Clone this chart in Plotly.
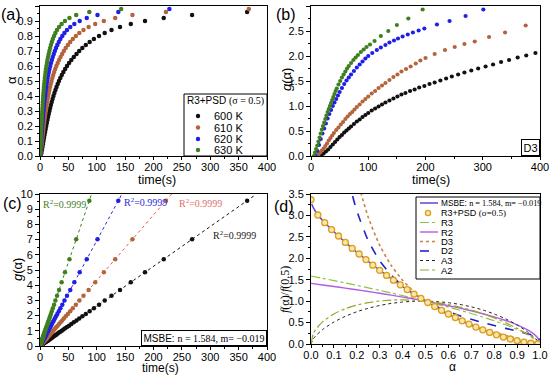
import plotly.graph_objects as go

W, H = 550, 376
SANS = "Liberation Sans"
SERIF = "Liberation Serif"


def px(x):
    return x / W


def py(y):
    return 1 - y / H


# ---------------- data: panel (a) alpha vs time ----------------
TEMPS = ["600 K", "610 K", "620 K", "630 K"]
A_GRID = [0.00, 0.02, 0.04, 0.06, 0.08, 0.10, 0.12, 0.14, 0.16, 0.18,
          0.20, 0.22, 0.24, 0.26, 0.28, 0.30, 0.32, 0.34, 0.36, 0.38,
          0.40, 0.42, 0.44, 0.46, 0.48, 0.50, 0.52, 0.54, 0.56, 0.58,
          0.60, 0.62, 0.64, 0.66, 0.68, 0.70, 0.72, 0.74, 0.76, 0.78,
          0.80, 0.82, 0.84, 0.86, 0.88, 0.90, 0.92, 0.94, 0.96, 0.98]
T_600 = [1, 2.5, 3.5, 4.4, 5.3, 6.2, 7.1, 8.0, 9.0, 10.0,
         11.0, 12.0, 13.1, 14.2, 15.4, 16.6, 17.9, 19.2, 20.6, 22.1,
         23.7, 25.4, 27.2, 29.1, 31.2, 33.4, 35.8, 38.4, 41.2, 44.3,
         47.6, 51.2, 55.2, 59.6, 64.3, 69.1, 74.6, 80.7, 87.5, 95,
         104, 114, 126, 141, 160, 185, 218, 268, 365]
T_610 = [0.6, 1.5, 2.1, 2.7, 3.2, 3.8, 4.3, 4.9, 5.5, 6.1,
         6.7, 7.3, 8.0, 8.6, 9.4, 10.1, 10.9, 11.7, 12.5, 13.4,
         14.4, 15.4, 16.5, 17.7, 19.0, 20.3, 21.8, 23.3, 25.0, 26.9,
         28.9, 31.1, 33.6, 36.2, 39.1, 42.0, 45.3, 49.1, 53.2, 57.8,
         63.2, 69.3, 76.6, 85.7, 97.3, 112.5, 132.5, 162.9, 221.9, 368]
T_620 = [0.4, 0.9, 1.3, 1.7, 2.0, 2.3, 2.7, 3.0, 3.4, 3.8,
         4.2, 4.5, 5.0, 5.4, 5.8, 6.3, 6.8, 7.3, 7.8, 8.4,
         9.0, 9.6, 10.3, 11.0, 11.8, 12.6, 13.5, 14.5, 15.6, 16.7,
         18.0, 19.4, 20.9, 22.5, 24.3, 26.1, 28.2, 30.5, 33.1, 35.9,
         39.3, 43.1, 47.6, 53.3, 60.5, 69.9, 82.4, 101.3, 138.0, 228]
T_630 = [0.2, 0.6, 0.8, 1.0, 1.3, 1.5, 1.7, 1.9, 2.1, 2.4,
         2.6, 2.9, 3.1, 3.4, 3.7, 4.0, 4.3, 4.6, 4.9, 5.3,
         5.6, 6.0, 6.5, 6.9, 7.4, 8.0, 8.5, 9.1, 9.8, 10.5,
         11.3, 12.2, 13.1, 14.2, 15.3, 16.5, 17.8, 19.2, 20.8, 22.6,
         24.8, 27.1, 30.0, 33.6, 38.1, 44.0, 51.9, 63.8, 86.9, 143]

# ---------------- data: panel (b) D3 g(alpha) vs time ----------------
TB_600 = [14, 18, 22, 26, 30, 34, 38, 42, 46, 50, 54, 58, 62, 66, 70, 75, 80, 85, 90, 95,
          100, 106, 112, 118, 124, 130, 137, 144, 151, 158, 165, 173, 181, 189, 198, 207,
          216, 226, 236, 246, 257, 268, 280, 292, 305, 318, 332, 346, 361, 376, 392, 408]
GB_600 = [0.0, 0.02, 0.05, 0.09, 0.13, 0.18, 0.23, 0.28, 0.33, 0.38, 0.42, 0.47, 0.51, 0.55,
          0.59, 0.64, 0.69, 0.73, 0.78, 0.82, 0.86, 0.91, 0.95, 0.99, 1.03, 1.07, 1.11, 1.15,
          1.19, 1.23, 1.26, 1.30, 1.33, 1.37, 1.40, 1.44, 1.47, 1.51, 1.55, 1.59, 1.63, 1.67,
          1.71, 1.75, 1.79, 1.83, 1.88, 1.92, 1.97, 2.01, 2.06, 2.11]
TB_610 = [10, 13, 16, 19, 22, 25, 28, 31, 34, 37, 40, 44, 48, 52, 56, 60, 64, 68, 72, 76,
          80, 85, 90, 95, 100, 106, 112, 118, 124, 130, 137, 144, 151, 158, 166, 174, 183,
          191, 200, 216, 234, 251, 268, 286, 311, 339, 375]
GB_610 = [0.0, 0.03, 0.07, 0.11, 0.15, 0.2, 0.25, 0.31, 0.36, 0.41, 0.46, 0.52, 0.57, 0.63,
          0.68, 0.74, 0.79, 0.84, 0.88, 0.93, 0.98, 1.03, 1.09, 1.14, 1.19, 1.25, 1.30, 1.36,
          1.41, 1.46, 1.52, 1.58, 1.63, 1.69, 1.74, 1.79, 1.85, 1.91, 1.96, 2.04, 2.12, 2.18,
          2.24, 2.29, 2.38, 2.47, 2.61]
TB_620 = [8, 11, 14, 17, 20, 23, 26, 29, 32, 35, 38, 41, 44, 47, 50, 54, 58, 62, 66, 70,
          75, 80, 85, 90, 95, 100, 107, 115, 122, 130, 137, 145, 152, 160, 169, 178, 188,
          198, 220, 242, 270, 301]
GB_620 = [0, 0.1, 0.22, 0.34, 0.45, 0.55, 0.65, 0.75, 0.84, 0.92, 1.0, 1.07, 1.14, 1.21,
          1.28, 1.36, 1.44, 1.51, 1.57, 1.63, 1.7, 1.77, 1.83, 1.89, 1.95, 2.0, 2.06, 2.12,
          2.17, 2.22, 2.27, 2.31, 2.35, 2.39, 2.43, 2.47, 2.51, 2.55, 2.63, 2.7, 2.8, 2.93]
TB_630 = [5, 7, 9, 11, 13, 15, 17, 19, 21, 23, 25, 27, 29, 31, 33, 35, 37, 39, 41, 43, 45,
          48, 51, 54, 57, 60, 63, 66, 70, 74, 78, 82, 87, 92, 97, 103, 111, 122, 135, 150,
          170, 195]
GB_630 = [0, 0.07, 0.14, 0.21, 0.29, 0.37, 0.45, 0.53, 0.6, 0.67, 0.74, 0.81, 0.88, 0.94,
          1.0, 1.06, 1.12, 1.18, 1.24, 1.3, 1.35, 1.43, 1.5, 1.57, 1.63, 1.69, 1.75, 1.8,
          1.86, 1.92, 1.97, 2.02, 2.08, 2.13, 2.18, 2.23, 2.3, 2.4, 2.5, 2.62, 2.75, 2.93]

# ---------------- data: panel (c) MSBE g(alpha) vs time ----------------
G_C = [0.03, 0.07, 0.09, 0.12, 0.14, 0.16, 0.19, 0.21, 0.24, 0.26,
       0.29, 0.31, 0.34, 0.37, 0.40, 0.43, 0.47, 0.50, 0.54, 0.58,
       0.62, 0.67, 0.71, 0.76, 0.82, 0.88, 0.94, 1.01, 1.08, 1.16,
       1.25, 1.34, 1.45, 1.56, 1.68, 1.81, 1.95, 2.11, 2.29, 2.49,
       2.72, 2.99, 3.30, 3.69, 4.19, 4.85, 5.71, 7.02, 9.56]
K_FIT = [0.0262, 0.0431, 0.0693, 0.110]
T_FIT_END = [378, 232, 145, 91]
R2_TEXT = "R<sup>2</sup>=0.9999"
R2_POS_T = [302, 241, 144, 2]
R2_POS_G = [7.32, 9.4, 9.47, 9.34]

# ---------------- data: panel (d) normalised f(alpha) ----------------
A_R = [0, 0.05, 0.1, 0.15, 0.2, 0.25, 0.3, 0.35, 0.4, 0.45, 0.5, 0.55, 0.6, 0.65, 0.7,
       0.75, 0.8, 0.85, 0.9, 0.95, 0.975, 0.99, 1.0]
F_R3 = [1.587, 1.534, 1.480, 1.424, 1.368, 1.310, 1.251, 1.191, 1.129, 1.066, 1.0, 0.932,
        0.862, 0.788, 0.711, 0.630, 0.543, 0.448, 0.342, 0.215, 0.136, 0.074, 0.0]
F_R2 = [1.414, 1.378, 1.342, 1.304, 1.265, 1.225, 1.183, 1.140, 1.095, 1.049, 1.0, 0.949,
        0.894, 0.837, 0.775, 0.707, 0.632, 0.548, 0.447, 0.316, 0.224, 0.141, 0.0]
A_D3 = [0.2, 0.21, 0.22, 0.25, 0.3, 0.35, 0.4, 0.45, 0.5, 0.55, 0.6, 0.65, 0.7, 0.75, 0.8,
        0.85, 0.9, 0.95, 0.975, 0.99, 1.0]
F_D3 = [3.94, 3.70, 3.49, 2.957, 2.303, 1.836, 1.487, 1.216, 1.0, 0.823, 0.675, 0.551,
        0.444, 0.351, 0.270, 0.197, 0.132, 0.070, 0.040, 0.019, 0.0]
A_D2 = [0.15, 0.17, 0.18, 0.2, 0.25, 0.3, 0.35, 0.4, 0.45, 0.5, 0.55, 0.6, 0.65, 0.7, 0.75,
        0.8, 0.85, 0.9, 0.95, 0.975, 0.99, 0.999]
F_D2 = [4.27, 3.72, 3.49, 3.106, 2.409, 1.943, 1.609, 1.357, 1.159, 1.0, 0.868, 0.756,
        0.660, 0.576, 0.5, 0.431, 0.365, 0.301, 0.231, 0.188, 0.150, 0.100]
A_A = [0, 0.01, 0.02, 0.05, 0.1, 0.15, 0.2, 0.25, 0.3, 0.35, 0.4, 0.45, 0.5, 0.55, 0.6,
       0.65, 0.7, 0.75, 0.8, 0.85, 0.9, 0.95, 0.98, 0.99, 1.0]
F_A3 = [0, 0.118, 0.186, 0.335, 0.513, 0.646, 0.752, 0.834, 0.899, 0.947, 0.979, 0.996,
        1.0, 0.989, 0.964, 0.923, 0.867, 0.794, 0.701, 0.587, 0.445, 0.265, 0.127, 0.071, 0.0]
F_A2 = [0, 0.238, 0.335, 0.517, 0.702, 0.823, 0.908, 0.966, 1.004, 1.025, 1.030, 1.021,
        1.0, 0.966, 0.920, 0.861, 0.791, 0.707, 0.609, 0.496, 0.364, 0.208, 0.095, 0.052, 0.0]
A_MSBE = [0.003, 0.01, 0.03, 0.05, 0.1, 0.15, 0.2, 0.25, 0.3, 0.35, 0.4, 0.45, 0.5, 0.55,
          0.6, 0.65, 0.7, 0.75, 0.8, 0.85, 0.9, 0.95, 1.0]
F_MSBE = [3.27, 3.18, 3.01, 2.89, 2.62, 2.37, 2.14, 1.93, 1.72, 1.53, 1.34, 1.17, 1.0,
          0.845, 0.70, 0.566, 0.442, 0.331, 0.232, 0.147, 0.077, 0.026, 0.0]
A_PSD = [0.00, 0.03, 0.06, 0.09, 0.12, 0.15, 0.18, 0.21, 0.24, 0.27, 0.30, 0.33, 0.36,
         0.39, 0.42, 0.45, 0.48, 0.51, 0.54, 0.57, 0.60, 0.63, 0.66, 0.69, 0.72, 0.75,
         0.78, 0.81, 0.84, 0.87, 0.90, 0.93, 0.96, 0.99]
F_PSD = [3.37, 3.01, 2.83, 2.67, 2.52, 2.37, 2.23, 2.10, 1.97, 1.84, 1.72, 1.60, 1.49,
         1.38, 1.27, 1.165, 1.065, 0.968, 0.875, 0.786, 0.700, 0.618, 0.540, 0.466, 0.396,
         0.331, 0.270, 0.214, 0.162, 0.117, 0.077, 0.044, 0.018, 0.002]

# ---------------- styles ----------------
COLORS = ["#111111", "#b4643c", "#1f1fe6", "#3f7f1f"]
FIT_COLORS = ["#111111", "#e0604a", "#2a2ae0", "#3f7f1f"]
R2_COLORS = ["#222222", "#e0706a", "#2a2ae0", "#3f7f1f"]

fig = go.Figure()

# (a)
for t, c in zip([T_600, T_610, T_620, T_630], COLORS):
    fig.add_trace(go.Scatter(x=t, y=A_GRID[:len(t)], mode="markers",
                             marker=dict(size=4.5, color=c), xaxis="x", yaxis="y",
                             showlegend=False))
# (b)
for t, g, c in zip([TB_600, TB_610, TB_620, TB_630], [GB_600, GB_610, GB_620, GB_630], COLORS):
    fig.add_trace(go.Scatter(x=t, y=g, mode="markers", marker=dict(size=4.2, color=c),
                             xaxis="x2", yaxis="y2", showlegend=False))
# (c)
for k, te, c in zip(K_FIT, T_FIT_END, FIT_COLORS):
    fig.add_trace(go.Scatter(x=[0, te], y=[0, k * te], mode="lines",
                             line=dict(color=c, width=1, dash="dot"),
                             xaxis="x3", yaxis="y3", showlegend=False))
for t, c in zip([T_600, T_610, T_620, T_630], COLORS):
    n = len(G_C)
    fig.add_trace(go.Scatter(x=t[:n], y=G_C, mode="markers",
                             marker=dict(size=4.5, color=c), xaxis="x3", yaxis="y3",
                             showlegend=False))
# (d)
D_STYLES = {
    "R3": ("#8cc43c", "dashdot", 1.2),
    "R2": ("#b45ce6", "solid", 1.4),
    "D3": ("#c8804a", "dot", 1.6),
    "D2": ("#2222cc", "dash", 1.6),
    "A3": ("#222222", "dot", 1.0),
    "A2": ("#9aa52a", "dashdot", 1.2),
    "MSBE": ("#6a3ed6", "solid", 1.5),
}
for name, ax_, fy in [("R3", A_R, F_R3), ("R2", A_R, F_R2), ("D3", A_D3, F_D3),
                      ("D2", A_D2, F_D2), ("A3", A_A, F_A3), ("A2", A_A, F_A2),
                      ("MSBE", A_MSBE, F_MSBE)]:
    col, dash, wd = D_STYLES[name]
    fig.add_trace(go.Scatter(x=ax_, y=fy, mode="lines",
                             line=dict(color=col, dash=dash, width=wd, shape="spline",
                                       smoothing=0.6),
                             xaxis="x4", yaxis="y4", showlegend=False))
fig.add_trace(go.Scatter(x=A_PSD, y=F_PSD, mode="markers",
                         marker=dict(size=6, color="#f6e8a6",
                                     line=dict(color="#dc9e1e", width=1.3)),
                         xaxis="x4", yaxis="y4", showlegend=False))


def axis(domain, anchor, rng, dtick, minor, fmt=None, ticklen=4, standoff=0):
    d = dict(domain=domain, anchor=anchor, range=rng, dtick=dtick, tick0=0,
             automargin=False,
             showline=True, linecolor="black", linewidth=1, mirror=True,
             ticks="outside", ticklen=ticklen, tickwidth=1, tickcolor="black",
             showgrid=False, zeroline=False, ticklabelstandoff=standoff,
             tickfont=dict(family=SANS, size=11, color="black"),
             minor=dict(dtick=minor, ticks="outside", ticklen=2, tickcolor="black",
                        showgrid=False))
    if fmt:
        d["tickformat"] = fmt
    return d


XA = [px(40), px(267)]
XB = [px(311), px(540)]
YT = [py(156), py(6)]
YB = [py(346), py(194)]
YD = [py(344), py(194)]

fig.update_layout(
    template="none",
    width=W, height=376, margin=dict(l=0, r=0, t=0, b=0, pad=0, autoexpand=False),
    plot_bgcolor="white", paper_bgcolor="white", showlegend=False,
    font=dict(family=SANS, color="black"),
    xaxis=axis(XA, "y", [0, 400], 50, 25, ticklen=3, standoff=-2),
    yaxis=axis(YT, "x", [0, 1.0], 0.1, 0.05, ".1f"),
    xaxis2=axis(XB, "y2", [0, 400], 100, 50, ticklen=3, standoff=-2),
    yaxis2=axis(YT, "x2", [0, 3.0], 0.5, 0.25, ".1f"),
    xaxis3=axis(XA, "y3", [0, 400], 50, 25, ticklen=3, standoff=-2),
    yaxis3=axis(YB, "x3", [0, 10], 1, 0.5),
    xaxis4=axis(XB, "y4", [0, 1.0], 0.1, 0.05, ".1f", ticklen=3, standoff=-2),
    yaxis4=axis(YD, "x4", [0, 3.5], 0.5, 0.25, ".1f"),
)

ann = []
shapes = []


def text(x, y, s, size=11, family=SANS, color="black", angle=0, xanchor="center",
         yanchor="middle", **kw):
    d = dict(x=x, y=y, xref="paper", yref="paper", text=s, showarrow=False,
             font=dict(family=family, size=size, color=color), textangle=angle,
             xanchor=xanchor, yanchor=yanchor)
    d.update(kw)
    ann.append(d)


# panel labels
for lab, x, y in [("(a)", 11, 15), ("(b)", 286, 15), ("(c)", 12, 204), ("(d)", 284, 206)]:
    text(px(x), py(y), lab, size=16)

# axis titles
text(px(157), py(179.5), "time(s)", size=12.5)
text(px(431), py(179.5), "time(s)", size=12.5)
text(px(160), py(368), "time(s)", size=12)
text(px(452), py(367), "α", size=12)
text(px(12), py(80), "α", size=13, angle=-90)
text(px(287), py(80), "<i>g</i>(α)", size=13, angle=-90)
text(px(17), py(270), "<i>g</i>(α)", size=13, angle=-90)
text(px(285), py(290), "<i>f</i>(α)/<i>f</i>(0.5)", size=12, family=SERIF, angle=-90)

# R^2 labels in panel (c)
for t, g, c in zip(R2_POS_T, R2_POS_G, R2_COLORS):
    ann.append(dict(x=t, y=g, xref="x3", yref="y3", text=R2_TEXT, showarrow=False,
                    xanchor="left", yanchor="middle",
                    font=dict(family=SERIF, size=10, color=c)))

# MSBE box in (c)
text(px(267), py(345.5),
     "MSBE: <span style='font-family:Liberation Serif'>n = 1.584, m= −0.019</span>",
     size=10, xanchor="right", yanchor="bottom", bordercolor="black", borderwidth=1,
     borderpad=1.5, bgcolor="white")
# D3 box in (b)
text(px(540), py(156), "D3", size=11, xanchor="right", yanchor="bottom",
     bordercolor="black", borderwidth=1, borderpad=1.5, bgcolor="white")

# legend (a)
shapes.append(dict(type="rect", xref="paper", yref="paper", x0=px(184), x1=px(267),
                   y0=py(156), y1=py(94), line=dict(color="black", width=1),
                   fillcolor="white", layer="above"))
text(px(225.5), py(101.5),
     "R3+PSD <span style='font-family:Liberation Serif'>(σ = 0.5)</span>", size=10)
for lab, c, yy in zip(TEMPS, COLORS, [116, 127.5, 139, 150]):
    shapes.append(dict(type="circle", xref="paper", yref="paper", xsizemode="pixel",
                       ysizemode="pixel", xanchor=px(198), yanchor=py(yy),
                       x0=-2.2, x1=2.2, y0=-2.2, y1=2.2,
                       fillcolor=c, line=dict(color=c, width=0)))
    text(px(212), py(yy), lab, size=11, xanchor="left")

# legend (d)
shapes.append(dict(type="rect", xref="paper", yref="paper", x0=px(416), x1=px(540),
                   y0=py(279), y1=py(197), line=dict(color="black", width=1),
                   fillcolor="white", layer="above"))
LEG_D = [
    ("MSBE", "MSBE: <span style='font-family:Liberation Serif'>n = 1.584, m= −0.019</span>", 203, 8.3),
    ("PSD", "R3+PSD <span style='font-family:Liberation Serif'>(σ=0.5)</span>", 213, 9),
    ("R3", "R3", 222.5, 9.5),
    ("R2", "R2", 232, 9.5),
    ("D3", "D3", 241.5, 9.5),
    ("D2", "D2", 251, 9.5),
    ("A3", "A3", 260.5, 9.5),
    ("A2", "A2", 270, 9.5),
]
for key, lab, yy, fs in LEG_D:
    if key == "PSD":
        shapes.append(dict(type="circle", xref="paper", yref="paper", xsizemode="pixel",
                           ysizemode="pixel", xanchor=px(428), yanchor=py(yy),
                           x0=-2.6, x1=2.6, y0=-2.6, y1=2.6, fillcolor="#f6e8a6",
                           line=dict(color="#dc9e1e", width=1.3)))
    else:
        col, dash, wd = D_STYLES[key]
        shapes.append(dict(type="line", xref="paper", yref="paper", x0=px(420), x1=px(438),
                           y0=py(yy), y1=py(yy), line=dict(color=col, dash=dash, width=wd)))
    text(px(439), py(yy), lab, size=fs, xanchor="left")

fig.update_layout(annotations=ann, shapes=shapes)
fig.write_html(
    "out.html",
    config={"displayModeBar": False},
    post_script=("document.body.style.margin='0';"
                 "document.documentElement.style.overflow='hidden';"
                 "document.body.style.overflow='hidden';"),
)
